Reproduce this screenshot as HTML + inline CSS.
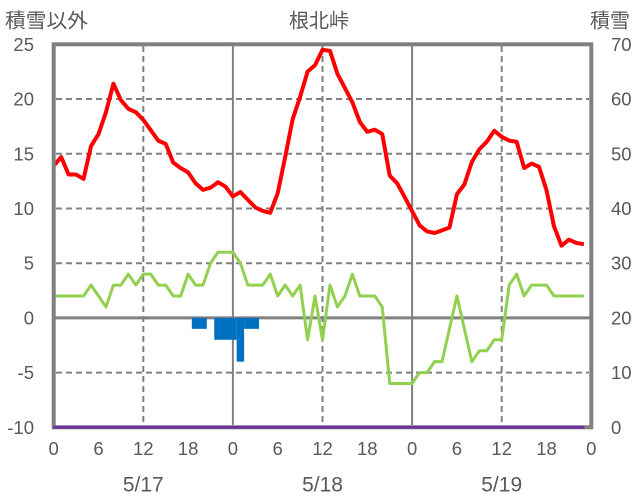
<!DOCTYPE html>
<html><head><meta charset="utf-8"><style>
html,body{margin:0;padding:0;background:#fff;}
svg{display:block;}
text{font-family:"Liberation Sans","Noto Sans CJK JP",sans-serif;fill:#595959;}
</style></head><body>
<svg width="636" height="501" viewBox="0 0 636 501" xmlns="http://www.w3.org/2000/svg">
<rect width="636" height="501" fill="#fff"/>
<!-- titles -->
<text x="5" y="27.5" font-size="20" textLength="83" lengthAdjust="spacingAndGlyphs">積雪以外</text>
<text x="319" y="27.5" font-size="20" text-anchor="middle">根北峠</text>
<text x="590" y="27.5" font-size="20" textLength="40" lengthAdjust="spacingAndGlyphs">積雪</text>

<!-- dashed gridlines -->
<g stroke="#808080" stroke-width="2" stroke-dasharray="6,4" fill="none">
<line x1="56" y1="99" x2="589" y2="99"/>
<line x1="56" y1="153.8" x2="589" y2="153.8"/>
<line x1="56" y1="208.5" x2="589" y2="208.5"/>
<line x1="56" y1="263.2" x2="589" y2="263.2"/>
<line x1="56" y1="372.6" x2="589" y2="372.6"/>
<line x1="143.3" y1="46" x2="143.3" y2="425"/>
<line x1="322.5" y1="46" x2="322.5" y2="425"/>
<line x1="501.7" y1="46" x2="501.7" y2="425"/>
</g>
<g stroke="#808080" fill="none">
<line x1="232.9" y1="46" x2="232.9" y2="425" stroke-width="2"/>
<line x1="412.1" y1="46" x2="412.1" y2="425" stroke-width="2"/>
<line x1="55" y1="317.9" x2="590" y2="317.9" stroke-width="3"/>
</g>

<!-- data group: x in hours, y in left-axis units -->
<g transform="translate(53.7,317.9) scale(7.467,-10.943)">
<g fill="#0070C0">
<rect x="18.5" y="-1" width="2" height="1"/>
<rect x="21.5" y="-2" width="3" height="2"/>
<rect x="24.5" y="-4" width="1" height="4"/>
<rect x="25.5" y="-1" width="2" height="1"/>
</g>
<polyline vector-effect="non-scaling-stroke" fill="none" stroke="#92D050" stroke-width="3" stroke-linejoin="round"
points="0,2 1,2 2,2 3,2 4,2 5,3 6,2 7,1 8,3 9,3 10,4 11,3 12,4 13,4 14,3 15,3 16,2 17,2 18,4 19,3 20,3 21,5 22,6 23,6 24,6 25,5 26,3 27,3 28,3 29,4 30,2 31,3 32,2 33,3 34,-2 35,2 36,-2 37,3 38,1 39,2 40,4 41,2 42,2 43,2 44,1 45,-6 46,-6 47,-6 48,-6 49,-5 50,-5 51,-4 52,-4 53,-1 54,2 55,-1 56,-4 57,-3 58,-3 59,-2 60,-2 61,3 62,4 63,2 64,3 65,3 66,3 67,2 68,2 69,2 70,2 71,2"/>
<polyline vector-effect="non-scaling-stroke" fill="none" stroke="#FF0000" stroke-width="4" stroke-linejoin="round"
points="0,13.9 1,14.7 2,13.1 3,13.1 4,12.7 5,15.7 6,16.8 7,18.8 8,21.4 9,19.9 10,19.1 11,18.8 12,18.1 13,17.15 14,16.2 15,15.9 16,14.2 17,13.7 18,13.3 19,12.3 20,11.7 21,11.9 22,12.4 23,12.0 24,11.1 25,11.5 26,10.8 27,10.1 28,9.77 29,9.6 30,11.4 31,14.7 32,18.15 33,20.2 34,22.5 35,23.1 36,24.5 37,24.4 38,22.3 39,21.0 40,19.7 41,17.9 42,17.0 43,17.2 44,16.8 45,13.0 46,12.3 47,11.05 48,9.75 49,8.46 50,7.9 51,7.76 52,8.0 53,8.25 54,11.3 55,12.2 56,14.25 57,15.4 58,16.1 59,17.1 60,16.55 61,16.2 62,16.1 63,13.7 64,14.1 65,13.8 66,11.66 67,8.37 68,6.6 69,7.15 70,6.85 71,6.73"/>
</g>

<!-- frame -->
<rect x="53.7" y="44.3" width="537.6" height="383" fill="none" stroke="#808080" stroke-width="4"/>
<!-- purple snow-depth line -->
<line x1="53.5" y1="427.2" x2="584.5" y2="427.2" stroke="#7030A0" stroke-width="3"/>

<!-- left axis labels -->
<g font-size="18.5" text-anchor="end">
<text x="34" y="51">25</text>
<text x="34" y="105.5">20</text>
<text x="34" y="160.3">15</text>
<text x="34" y="215">10</text>
<text x="34" y="269.7">5</text>
<text x="34" y="324.4">0</text>
<text x="34" y="379.1">-5</text>
<text x="34" y="433.8">-10</text>
</g>
<!-- right axis labels -->
<g font-size="18.5">
<text x="611" y="51">70</text>
<text x="611" y="105.5">60</text>
<text x="611" y="160.3">50</text>
<text x="611" y="215">40</text>
<text x="611" y="269.7">30</text>
<text x="611" y="324.4">20</text>
<text x="611" y="379.1">10</text>
<text x="611" y="433.8">0</text>
</g>
<!-- x labels -->
<g font-size="18.5" text-anchor="middle">
<text x="53.7" y="455">0</text>
<text x="98.5" y="455">6</text>
<text x="143.3" y="455">12</text>
<text x="188.1" y="455">18</text>
<text x="232.9" y="455">0</text>
<text x="277.7" y="455">6</text>
<text x="322.5" y="455">12</text>
<text x="367.3" y="455">18</text>
<text x="412.1" y="455">0</text>
<text x="456.9" y="455">6</text>
<text x="501.7" y="455">12</text>
<text x="546.5" y="455">18</text>
<text x="591.3" y="455">0</text>
</g>
<g font-size="21" text-anchor="middle">
<text x="143.3" y="491.5">5/17</text>
<text x="322.5" y="491.5">5/18</text>
<text x="501.7" y="491.5">5/19</text>
</g>
</svg>
</body></html>
